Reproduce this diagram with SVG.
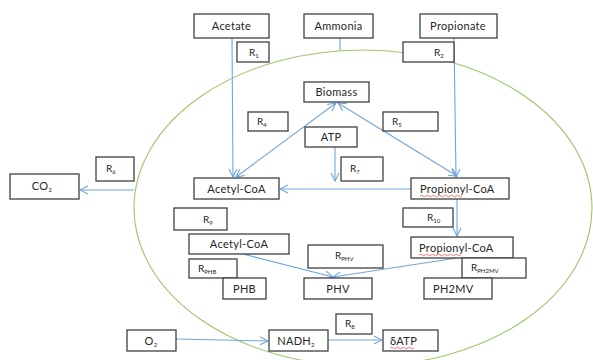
<svg xmlns="http://www.w3.org/2000/svg" width="593" height="360" viewBox="0 0 593 360">
<defs>
<style>
.box{fill:#fff;stroke:#404040;stroke-width:1.3}
.t{font-family:Lato,"Open Sans","Liberation Sans",sans-serif;font-size:11px;fill:#262626;letter-spacing:0.3px}
.r{font-family:Lato,"Open Sans","Liberation Sans",sans-serif;font-size:10px;fill:#262626}
.s{font-size:6px}
.c{fill:none;stroke:#6fa5dc;stroke-width:1.1}
.sq{fill:none;stroke:#e04040;stroke-width:0.7}
</style>
<marker id="ah" viewBox="0 0 10 10" refX="9" refY="5" markerWidth="10" markerHeight="10" markerUnits="userSpaceOnUse" orient="auto-start-reverse">
<path d="M1,1 L9,5 L1,9" fill="none" stroke="#6fa5dc" stroke-width="1.1"/>
</marker>
</defs>
<rect width="593" height="360" fill="#fff"/>
<ellipse id="cell" cx="363" cy="208" rx="229" ry="158" fill="none" stroke="#9bc66b" stroke-width="1.1"/>
<g id="connectors">
<line class="c" x1="232" y1="38" x2="233" y2="177" marker-end="url(#ah)"/>
<line class="c" x1="454" y1="38" x2="456" y2="177" marker-end="url(#ah)"/>
<line class="c" x1="340" y1="38" x2="340" y2="50"/>
<line class="c" x1="236" y1="177" x2="336" y2="103" marker-start="url(#ah)" marker-end="url(#ah)"/>
<line class="c" x1="338" y1="103" x2="457" y2="176" marker-start="url(#ah)" marker-end="url(#ah)"/>
<line class="c" x1="335" y1="147" x2="335" y2="181" marker-end="url(#ah)"/>
<line class="c" x1="411" y1="189" x2="280" y2="189" marker-end="url(#ah)"/>
<line class="c" x1="134" y1="190" x2="80" y2="190" marker-end="url(#ah)"/>
<line class="c" x1="457" y1="199" x2="457" y2="236" marker-end="url(#ah)"/>
<line class="c" x1="243" y1="254" x2="333" y2="277" marker-end="url(#ah)"/>
<line class="c" x1="457" y1="258" x2="333" y2="277" marker-end="url(#ah)"/>
<line class="c" x1="176" y1="339" x2="268" y2="341" marker-end="url(#ah)"/>
<line class="c" x1="328" y1="340" x2="382" y2="340" marker-end="url(#ah)"/>
</g>
<g id="acetate"><rect class="box" x="194" y="14" width="75" height="24"/><text class="t" x="231.5" y="30" text-anchor="middle">Acetate</text></g>
<g id="ammonia"><rect class="box" x="304" y="14" width="69" height="24"/><text class="t" x="338.5" y="30" text-anchor="middle">Ammonia</text></g>
<g id="propionate"><rect class="box" x="420" y="14" width="77" height="24"/><text class="t" x="458" y="30" text-anchor="middle">Propionate</text></g>
<g id="r1"><rect class="box" x="237" y="42" width="32" height="20"/><text class="r" x="249" y="56">R<tspan class="s" dy="2">1</tspan></text></g>
<g id="r2"><rect class="box" x="403" y="42" width="51" height="20"/><text class="r" x="434" y="56">R<tspan class="s" dy="2">2</tspan></text></g>
<g id="biomass"><rect class="box" x="304" y="82" width="65" height="20"/><text class="t" x="336.5" y="96" text-anchor="middle">Biomass</text></g>
<g id="r4"><rect class="box" x="248" y="112" width="40" height="19"/><text class="r" x="257" y="125">R<tspan class="s" dy="2">4</tspan></text></g>
<g id="r5"><rect class="box" x="383" y="112" width="55" height="19"/><text class="r" x="392" y="125">R<tspan class="s" dy="2">5</tspan></text></g>
<g id="atp"><rect class="box" x="305" y="127" width="52" height="20"/><text class="t" x="331" y="141" text-anchor="middle">ATP</text></g>
<g id="r7"><rect class="box" x="341" y="157" width="42" height="24"/><text class="r" x="350" y="172">R<tspan class="s" dy="2">7</tspan></text></g>
<g id="r6"><rect class="box" x="96" y="157" width="38" height="24"/><text class="r" x="106" y="172">R<tspan class="s" dy="2">6</tspan></text></g>
<g id="co2"><rect class="box" x="10" y="174" width="69" height="25"/><text class="t" x="42" y="190" text-anchor="middle">CO<tspan class="s" dy="2">2</tspan></text></g>
<g id="acetylcoa1"><rect class="box" x="194" y="178" width="85" height="21"/><text class="t" x="236.5" y="192.5" text-anchor="middle">Acetyl-CoA</text></g>
<g id="propionylcoa1"><rect class="box" x="411" y="178" width="98" height="21"/><text class="t" x="420" y="192.5">Propionyl-CoA</text><path class="sq" d="M420,196 q1.5,-1.5 3,0 t3,0 t3,0 t3,0 t3,0 t3,0 t3,0 t3,0 t3,0 t3,0 t3,0 t3,0 t3,0 t3,0"/></g>
<g id="r9"><rect class="box" x="174" y="208" width="53" height="22"/><text class="r" x="203" y="223">R<tspan class="s" dy="2">9</tspan></text></g>
<g id="r10"><rect class="box" x="403" y="208" width="50" height="19"/><text class="r" x="427" y="221">R<tspan class="s" dy="2">10</tspan></text></g>
<g id="acetylcoa2"><rect class="box" x="189" y="234" width="100" height="20"/><text class="t" x="239" y="248" text-anchor="middle">Acetyl-CoA</text></g>
<g id="propionylcoa2"><rect class="box" x="411" y="237" width="102" height="21"/><text class="t" x="419" y="251.5">Propionyl-CoA</text><path class="sq" d="M419,255 q1.5,-1.5 3,0 t3,0 t3,0 t3,0 t3,0 t3,0 t3,0 t3,0 t3,0 t3,0 t3,0 t3,0 t3,0 t3,0"/></g>
<g id="rphv"><rect class="box" x="308" y="245" width="75" height="23"/><text class="r" x="335" y="259">R<tspan class="s" dy="2">PHV</tspan></text></g>
<g id="rphb"><rect class="box" x="189" y="259" width="48" height="19"/><text class="r" x="198" y="272">R<tspan class="s" dy="2">PHB</tspan></text></g>
<g id="rph2mv"><rect class="box" x="462" y="258" width="64" height="20"/><text class="r" x="471" y="271">R<tspan class="s" dy="2">PH2MV</tspan></text></g>
<g id="phb"><rect class="box" x="223" y="278" width="43" height="21"/><text class="t" x="244.5" y="292.5" text-anchor="middle">PHB</text></g>
<g id="phv"><rect class="box" x="304" y="278" width="68" height="21"/><text class="t" x="338" y="292.5" text-anchor="middle">PHV</text></g>
<g id="ph2mv"><rect class="box" x="424" y="278" width="68" height="21"/><text class="t" x="433" y="292.5">PH2MV</text></g>
<g id="r8"><rect class="box" x="336" y="314" width="36" height="20"/><text class="r" x="345" y="327">R<tspan class="s" dy="2">8</tspan></text></g>
<g id="o2"><rect class="box" x="127" y="330" width="49" height="21"/><text class="t" x="151" y="344.5" text-anchor="middle">O<tspan class="s" dy="2">2</tspan></text></g>
<g id="nadh2"><rect class="box" x="269" y="330" width="59" height="21"/><text class="t" x="296" y="344.5" text-anchor="middle">NADH<tspan class="s" dy="2">2</tspan></text></g>
<g id="datp"><rect class="box" x="383" y="330" width="55" height="21"/><text class="t" x="390" y="344.5">δATP</text><path class="sq" d="M390,348 q1.5,-1.5 3,0 t3,0 t3,0 t3,0 t3,0 t3,0 t3,0 t3,0"/></g>
</svg>
